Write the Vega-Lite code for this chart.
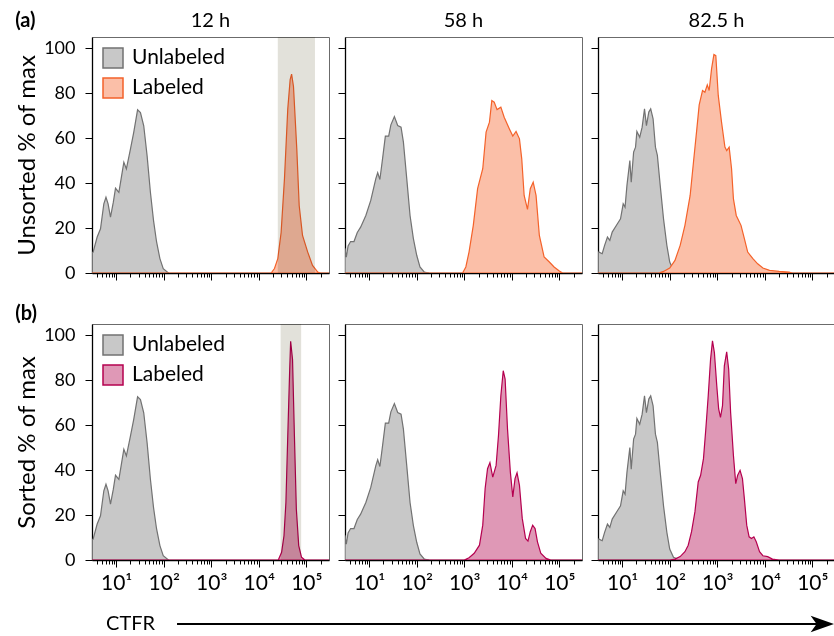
{
"$schema":"https://vega.github.io/schema/vega-lite/v6.json",
"padding":{"left":15,"top":10,"right":0,"bottom":0},
"spacing":20,
"config":{
 "font":"Lato",
 "view":{"stroke":"#6b6b6b","strokeWidth":1},
 "title":{"font":"Lato","fontSize":20,"fontWeight":"normal","color":"black","offset":6},
 "axis":{"labelFont":"Lato","labelFontSize":18,"labelColor":"black","titleFont":"Lato","titleFontSize":24,"titleFontWeight":"normal","titleColor":"black","domainColor":"black","domainWidth":1.3,"tickColor":"black","tickWidth":1,"grid":false,"labelOverlap":false,"labelFlush":false,"labelBound":false,"zindex":1},
 "axisX":{"labelFontSize":21,"labelPadding":5},
 "axisY":{"labelPadding":10,"titlePadding":4},
 "legend":{"orient":"top-left","offset":10,"padding":0,"symbolType":"square","symbolSize":400,"symbolStrokeWidth":1.5,"labelFont":"Lato","labelFontSize":21,"labelColor":"black","labelOffset":8,"rowPadding":4}
},
"datasets":{
 "u12":[{"series":"Unlabeled","x":3.15,"y":9},{"series":"Unlabeled","x":3.27,"y":9.3},{"series":"Unlabeled","x":3.98,"y":16},{"series":"Unlabeled","x":4.68,"y":19.7},{"series":"Unlabeled","x":5.5,"y":30.8},{"series":"Unlabeled","x":6.1,"y":33.7},{"series":"Unlabeled","x":6.76,"y":30.8},{"series":"Unlabeled","x":7.59,"y":24.9},{"series":"Unlabeled","x":8.71,"y":31.5},{"series":"Unlabeled","x":9.68,"y":37.7},{"series":"Unlabeled","x":11.4,"y":35.9},{"series":"Unlabeled","x":12.7,"y":41.9},{"series":"Unlabeled","x":14.5,"y":49.3},{"series":"Unlabeled","x":16.4,"y":46.3},{"series":"Unlabeled","x":20,"y":55.2},{"series":"Unlabeled","x":23.4,"y":62.6},{"series":"Unlabeled","x":28.2,"y":72.6},{"series":"Unlabeled","x":32.4,"y":71.4},{"series":"Unlabeled","x":38,"y":65.5},{"series":"Unlabeled","x":44.7,"y":52.2},{"series":"Unlabeled","x":52.5,"y":35.9},{"series":"Unlabeled","x":61,"y":23.4},{"series":"Unlabeled","x":70.8,"y":13.8},{"series":"Unlabeled","x":83.2,"y":6.4},{"series":"Unlabeled","x":97.7,"y":1.9},{"series":"Unlabeled","x":126,"y":0}],
 "u58":[{"series":"Unlabeled","x":3.1,"y":11},{"series":"Unlabeled","x":3.3,"y":7},{"series":"Unlabeled","x":3.6,"y":12},{"series":"Unlabeled","x":4.07,"y":14},{"series":"Unlabeled","x":4.79,"y":14},{"series":"Unlabeled","x":5.62,"y":18},{"series":"Unlabeled","x":6.61,"y":20.4},{"series":"Unlabeled","x":8.51,"y":25.6},{"series":"Unlabeled","x":10.8,"y":32.3},{"series":"Unlabeled","x":13.8,"y":42},{"series":"Unlabeled","x":15.1,"y":44.6},{"series":"Unlabeled","x":16.8,"y":41.6},{"series":"Unlabeled","x":19.1,"y":50.8},{"series":"Unlabeled","x":21.9,"y":60.9},{"series":"Unlabeled","x":25.7,"y":60.9},{"series":"Unlabeled","x":28.6,"y":65.9},{"series":"Unlabeled","x":33.9,"y":69.6},{"series":"Unlabeled","x":39.8,"y":65.6},{"series":"Unlabeled","x":46.8,"y":64.9},{"series":"Unlabeled","x":52.5,"y":58.2},{"series":"Unlabeled","x":61.7,"y":42},{"series":"Unlabeled","x":72.4,"y":25.6},{"series":"Unlabeled","x":85.1,"y":15.3},{"series":"Unlabeled","x":100,"y":7.9},{"series":"Unlabeled","x":117,"y":2.7},{"series":"Unlabeled","x":145,"y":0.4},{"series":"Unlabeled","x":182,"y":0}],
 "u82":[{"series":"Unlabeled","x":3.15,"y":9.3},{"series":"Unlabeled","x":3.26,"y":9.3},{"series":"Unlabeled","x":3.8,"y":8.6},{"series":"Unlabeled","x":4.27,"y":12.3},{"series":"Unlabeled","x":4.9,"y":16},{"series":"Unlabeled","x":5.5,"y":14.5},{"series":"Unlabeled","x":6.17,"y":18.2},{"series":"Unlabeled","x":7.94,"y":21.9},{"series":"Unlabeled","x":9.23,"y":24.1},{"series":"Unlabeled","x":10.5,"y":30.8},{"series":"Unlabeled","x":11.5,"y":29.3},{"series":"Unlabeled","x":12.6,"y":39},{"series":"Unlabeled","x":14.5,"y":50},{"series":"Unlabeled","x":15.5,"y":40.4},{"series":"Unlabeled","x":17.4,"y":53.8},{"series":"Unlabeled","x":19.1,"y":56},{"series":"Unlabeled","x":20.4,"y":63},{"series":"Unlabeled","x":23.4,"y":60.4},{"series":"Unlabeled","x":26.3,"y":64.9},{"series":"Unlabeled","x":29.5,"y":73},{"series":"Unlabeled","x":32.4,"y":65.6},{"series":"Unlabeled","x":36.3,"y":71.6},{"series":"Unlabeled","x":39.8,"y":73},{"series":"Unlabeled","x":44.7,"y":68.6},{"series":"Unlabeled","x":50.1,"y":56},{"series":"Unlabeled","x":55,"y":52.3},{"series":"Unlabeled","x":63.1,"y":39},{"series":"Unlabeled","x":74.1,"y":24.1},{"series":"Unlabeled","x":87.1,"y":12.3},{"series":"Unlabeled","x":100,"y":4.9},{"series":"Unlabeled","x":120,"y":1.2},{"series":"Unlabeled","x":166,"y":0}],
 "a12":[{"series":"Labeled","x":3.1,"y":0},{"series":"Labeled","x":18200,"y":0},{"series":"Labeled","x":21400,"y":2},{"series":"Labeled","x":25100,"y":6.4},{"series":"Labeled","x":29500,"y":18},{"series":"Labeled","x":34700,"y":42},{"series":"Labeled","x":40700,"y":73},{"series":"Labeled","x":45700,"y":86},{"series":"Labeled","x":49000,"y":88.5},{"series":"Labeled","x":53700,"y":83},{"series":"Labeled","x":63100,"y":55},{"series":"Labeled","x":70800,"y":30},{"series":"Labeled","x":83200,"y":16.7},{"series":"Labeled","x":107000,"y":9.3},{"series":"Labeled","x":135000,"y":3.4},{"series":"Labeled","x":174000,"y":0.4},{"series":"Labeled","x":200000,"y":0},{"series":"Labeled","x":300000,"y":0}],
 "a58":[{"series":"Labeled","x":3.1,"y":0},{"series":"Labeled","x":923,"y":0},{"series":"Labeled","x":1080,"y":2.7},{"series":"Labeled","x":1260,"y":9.3},{"series":"Labeled","x":1550,"y":21.2},{"series":"Labeled","x":1910,"y":37.5},{"series":"Labeled","x":2450,"y":46.4},{"series":"Labeled","x":2880,"y":62.7},{"series":"Labeled","x":3390,"y":67.1},{"series":"Labeled","x":3800,"y":76.7},{"series":"Labeled","x":4270,"y":76},{"series":"Labeled","x":4900,"y":72.7},{"series":"Labeled","x":5890,"y":73.8},{"series":"Labeled","x":6920,"y":69.3},{"series":"Labeled","x":8910,"y":64.1},{"series":"Labeled","x":10500,"y":60.9},{"series":"Labeled","x":12300,"y":63},{"series":"Labeled","x":14500,"y":59.7},{"series":"Labeled","x":16200,"y":50.8},{"series":"Labeled","x":18200,"y":34.5},{"series":"Labeled","x":21400,"y":28.3},{"series":"Labeled","x":24500,"y":37.5},{"series":"Labeled","x":28200,"y":40.4},{"series":"Labeled","x":32400,"y":34.5},{"series":"Labeled","x":38000,"y":16.7},{"series":"Labeled","x":47900,"y":7.1},{"series":"Labeled","x":61700,"y":4.9},{"series":"Labeled","x":77600,"y":2.7},{"series":"Labeled","x":100000,"y":0.9},{"series":"Labeled","x":117000,"y":0},{"series":"Labeled","x":300000,"y":0}],
 "a82":[{"series":"Labeled","x":3.1,"y":0},{"series":"Labeled","x":58.9,"y":0},{"series":"Labeled","x":74.1,"y":0.7},{"series":"Labeled","x":100,"y":2.2},{"series":"Labeled","x":129,"y":5.6},{"series":"Labeled","x":166,"y":12.3},{"series":"Labeled","x":209,"y":21.2},{"series":"Labeled","x":269,"y":34.5},{"series":"Labeled","x":316,"y":49.3},{"series":"Labeled","x":372,"y":64.1},{"series":"Labeled","x":417,"y":74.8},{"series":"Labeled","x":490,"y":81.2},{"series":"Labeled","x":550,"y":80.4},{"series":"Labeled","x":617,"y":83.7},{"series":"Labeled","x":676,"y":81.2},{"series":"Labeled","x":759,"y":90.8},{"series":"Labeled","x":851,"y":97.2},{"series":"Labeled","x":933,"y":96.7},{"series":"Labeled","x":1050,"y":79},{"series":"Labeled","x":1230,"y":67.1},{"series":"Labeled","x":1450,"y":56},{"series":"Labeled","x":1580,"y":54.5},{"series":"Labeled","x":1780,"y":56},{"series":"Labeled","x":2000,"y":46.4},{"series":"Labeled","x":2190,"y":33},{"series":"Labeled","x":2510,"y":25.6},{"series":"Labeled","x":3160,"y":21.2},{"series":"Labeled","x":3720,"y":15.3},{"series":"Labeled","x":4370,"y":9.3},{"series":"Labeled","x":5620,"y":6.4},{"series":"Labeled","x":7080,"y":4.1},{"series":"Labeled","x":9120,"y":2.2},{"series":"Labeled","x":12600,"y":1.2},{"series":"Labeled","x":20000,"y":0.7},{"series":"Labeled","x":32400,"y":0.4},{"series":"Labeled","x":38000,"y":0},{"series":"Labeled","x":300000,"y":0}],
 "b12":[{"series":"Labeled","x":3.1,"y":0},{"series":"Labeled","x":25700,"y":0},{"series":"Labeled","x":30200,"y":3.4},{"series":"Labeled","x":33900,"y":10.8},{"series":"Labeled","x":37200,"y":25.6},{"series":"Labeled","x":40700,"y":55.2},{"series":"Labeled","x":44700,"y":84.8},{"series":"Labeled","x":46800,"y":97.3},{"series":"Labeled","x":51300,"y":89.2},{"series":"Labeled","x":56200,"y":55.2},{"series":"Labeled","x":61700,"y":22.6},{"series":"Labeled","x":69200,"y":6.4},{"series":"Labeled","x":79400,"y":1.2},{"series":"Labeled","x":93300,"y":0},{"series":"Labeled","x":300000,"y":0}],
 "b58":[{"series":"Labeled","x":3.1,"y":0},{"series":"Labeled","x":1000,"y":0},{"series":"Labeled","x":1260,"y":1},{"series":"Labeled","x":1620,"y":3},{"series":"Labeled","x":2090,"y":6.6},{"series":"Labeled","x":2450,"y":15.5},{"series":"Labeled","x":2750,"y":31.8},{"series":"Labeled","x":3090,"y":40.6},{"series":"Labeled","x":3470,"y":43.3},{"series":"Labeled","x":3980,"y":36.9},{"series":"Labeled","x":4680,"y":42.1},{"series":"Labeled","x":5250,"y":55.4},{"series":"Labeled","x":5890,"y":73.1},{"series":"Labeled","x":6610,"y":84.2},{"series":"Labeled","x":7240,"y":80.5},{"series":"Labeled","x":8130,"y":58.3},{"series":"Labeled","x":9330,"y":39.1},{"series":"Labeled","x":10500,"y":28.1},{"series":"Labeled","x":11700,"y":36.2},{"series":"Labeled","x":12900,"y":38.8},{"series":"Labeled","x":14500,"y":33.2},{"series":"Labeled","x":16600,"y":18.5},{"series":"Labeled","x":19500,"y":9.6},{"series":"Labeled","x":21900,"y":8.4},{"series":"Labeled","x":24500,"y":12.6},{"series":"Labeled","x":27500,"y":15.5},{"series":"Labeled","x":30900,"y":14},{"series":"Labeled","x":34700,"y":8.1},{"series":"Labeled","x":40700,"y":3},{"series":"Labeled","x":52500,"y":0.7},{"series":"Labeled","x":66100,"y":0},{"series":"Labeled","x":300000,"y":0}],
 "b82":[{"series":"Labeled","x":3.1,"y":0},{"series":"Labeled","x":100,"y":0},{"series":"Labeled","x":129,"y":0.4},{"series":"Labeled","x":166,"y":1.5},{"series":"Labeled","x":209,"y":3.7},{"series":"Labeled","x":245,"y":6.6},{"series":"Labeled","x":288,"y":12.6},{"series":"Labeled","x":339,"y":21.4},{"series":"Labeled","x":398,"y":34.7},{"series":"Labeled","x":447,"y":37.7},{"series":"Labeled","x":513,"y":45.1},{"series":"Labeled","x":575,"y":58.3},{"series":"Labeled","x":646,"y":73.1},{"series":"Labeled","x":724,"y":89.4},{"series":"Labeled","x":794,"y":97.5},{"series":"Labeled","x":871,"y":92.3},{"series":"Labeled","x":977,"y":77.5},{"series":"Labeled","x":1070,"y":67.2},{"series":"Labeled","x":1170,"y":63.5},{"series":"Labeled","x":1290,"y":68.7},{"series":"Labeled","x":1410,"y":86.4},{"series":"Labeled","x":1580,"y":92.6},{"series":"Labeled","x":1740,"y":84.9},{"series":"Labeled","x":1910,"y":65.7},{"series":"Labeled","x":2190,"y":46.5},{"series":"Labeled","x":2450,"y":34},{"series":"Labeled","x":2690,"y":37.7},{"series":"Labeled","x":3020,"y":39.9},{"series":"Labeled","x":3390,"y":36.2},{"series":"Labeled","x":3720,"y":27.3},{"series":"Labeled","x":4170,"y":15.5},{"series":"Labeled","x":4680,"y":10.3},{"series":"Labeled","x":5250,"y":9.6},{"series":"Labeled","x":5890,"y":10.3},{"series":"Labeled","x":6610,"y":8.1},{"series":"Labeled","x":7760,"y":3.7},{"series":"Labeled","x":9120,"y":1.9},{"series":"Labeled","x":11500,"y":1.5},{"series":"Labeled","x":14500,"y":0.4},{"series":"Labeled","x":20000,"y":0},{"series":"Labeled","x":300000,"y":0}]
},
"resolve":{"scale":{"fill":"independent","stroke":"independent"},"legend":{"fill":"independent","stroke":"independent"}},
"vconcat":[
 {"title":{"text":"(a)","anchor":"start","frame":"bounds","fontWeight":"bold","offset":-20},
  "spacing":7,
  "resolve":{"scale":{"fill":"independent","stroke":"independent"},"legend":{"fill":"independent","stroke":"independent"}},
  "hconcat":[
   {"width":237,"height":236,"title":"12 h",
    "layer":[
     {"data":{"name":"u12"},"mark":{"type":"area","clip":true,"strokeWidth":1.2},
      "encoding":{"x":{"field":"x","type":"quantitative","scale":{"type":"log","domain":[3.1,300000],"nice":false},"axis":{"title":null,"labels":false,"values":[4,5,6,7,8,9,10,20,30,40,50,60,70,80,90,100,200,300,400,500,600,700,800,900,1000,2000,3000,4000,5000,6000,7000,8000,9000,10000,20000,30000,40000,50000,60000,70000,80000,90000,100000,200000],"tickSize":{"condition":{"test":"datum.value == 10 || datum.value == 100 || datum.value == 1000 || datum.value == 10000 || datum.value == 100000","value":7},"value":4}}},
       "y":{"field":"y","type":"quantitative","stack":null,"scale":{"domain":[0,105],"nice":false},"axis":{"title":"Unsorted % of max","values":[0,5,10,15,20,25,30,35,40,45,50,55,60,65,70,75,80,85,90,95,100],"labelExpr":"datum.value % 20 == 0 ? datum.label : ''","tickSize":{"condition":{"test":"datum.value % 20 == 0","value":7},"value":4}}},
       "fill":{"field":"series","type":"nominal","scale":{"domain":["Unlabeled","Labeled"],"range":["#c8c8c8","#fbbfa8"]},"legend":{"title":null}},
       "stroke":{"field":"series","type":"nominal","scale":{"domain":["Unlabeled","Labeled"],"range":["#727272","#f4622a"]},"legend":{"title":null}}}},
     {"data":{"name":"a12"},"mark":{"type":"area","clip":true,"strokeWidth":1.2},
      "encoding":{"x":{"field":"x","type":"quantitative"},"y":{"field":"y","type":"quantitative","stack":null},
       "fill":{"field":"series","type":"nominal"},"stroke":{"field":"series","type":"nominal"}}},
     {"data":{"values":[{"x0":25100,"x1":152000}]},"mark":{"type":"rect","color":"#e2e1da","blend":"multiply"},
      "encoding":{"x":{"field":"x0","type":"quantitative"},"x2":{"field":"x1"}}}
    ]},
   {"width":237,"height":236,"title":"58 h",
    "layer":[
     {"data":{"name":"u58"},"mark":{"type":"area","clip":true,"strokeWidth":1.2},
      "encoding":{"x":{"field":"x","type":"quantitative","scale":{"type":"log","domain":[3.1,300000],"nice":false},"axis":{"title":null,"labels":false,"values":[4,5,6,7,8,9,10,20,30,40,50,60,70,80,90,100,200,300,400,500,600,700,800,900,1000,2000,3000,4000,5000,6000,7000,8000,9000,10000,20000,30000,40000,50000,60000,70000,80000,90000,100000,200000],"tickSize":{"condition":{"test":"datum.value == 10 || datum.value == 100 || datum.value == 1000 || datum.value == 10000 || datum.value == 100000","value":7},"value":4}}},
       "y":{"field":"y","type":"quantitative","stack":null,"scale":{"domain":[0,105],"nice":false},"axis":{"title":null,"labels":false,"values":[0,5,10,15,20,25,30,35,40,45,50,55,60,65,70,75,80,85,90,95,100],"tickSize":{"condition":{"test":"datum.value % 20 == 0","value":7},"value":4}}},
       "fill":{"field":"series","type":"nominal","scale":{"domain":["Unlabeled","Labeled"],"range":["#c8c8c8","#fbbfa8"]},"legend":null},
       "stroke":{"field":"series","type":"nominal","scale":{"domain":["Unlabeled","Labeled"],"range":["#727272","#f4622a"]},"legend":null}}},
     {"data":{"name":"a58"},"mark":{"type":"area","clip":true,"strokeWidth":1.2},
      "encoding":{"x":{"field":"x","type":"quantitative"},"y":{"field":"y","type":"quantitative","stack":null},
       "fill":{"field":"series","type":"nominal","legend":null},"stroke":{"field":"series","type":"nominal","legend":null}}}
    ]},
   {"width":237,"height":236,"title":"82.5 h",
    "layer":[
     {"data":{"name":"u82"},"mark":{"type":"area","clip":true,"strokeWidth":1.2},
      "encoding":{"x":{"field":"x","type":"quantitative","scale":{"type":"log","domain":[3.1,300000],"nice":false},"axis":{"title":null,"labels":false,"values":[4,5,6,7,8,9,10,20,30,40,50,60,70,80,90,100,200,300,400,500,600,700,800,900,1000,2000,3000,4000,5000,6000,7000,8000,9000,10000,20000,30000,40000,50000,60000,70000,80000,90000,100000,200000],"tickSize":{"condition":{"test":"datum.value == 10 || datum.value == 100 || datum.value == 1000 || datum.value == 10000 || datum.value == 100000","value":7},"value":4}}},
       "y":{"field":"y","type":"quantitative","stack":null,"scale":{"domain":[0,105],"nice":false},"axis":{"title":null,"labels":false,"values":[0,5,10,15,20,25,30,35,40,45,50,55,60,65,70,75,80,85,90,95,100],"tickSize":{"condition":{"test":"datum.value % 20 == 0","value":7},"value":4}}},
       "fill":{"field":"series","type":"nominal","scale":{"domain":["Unlabeled","Labeled"],"range":["#c8c8c8","#fbbfa8"]},"legend":null},
       "stroke":{"field":"series","type":"nominal","scale":{"domain":["Unlabeled","Labeled"],"range":["#727272","#f4622a"]},"legend":null}}},
     {"data":{"name":"a82"},"mark":{"type":"area","clip":true,"strokeWidth":1.2},
      "encoding":{"x":{"field":"x","type":"quantitative"},"y":{"field":"y","type":"quantitative","stack":null},
       "fill":{"field":"series","type":"nominal","legend":null},"stroke":{"field":"series","type":"nominal","legend":null}}}
    ]}
  ]},
 {"title":{"text":"(b)","anchor":"start","frame":"bounds","fontWeight":"bold","offset":0},
  "spacing":7,
  "resolve":{"scale":{"fill":"independent","stroke":"independent"},"legend":{"fill":"independent","stroke":"independent"}},
  "hconcat":[
   {"width":237,"height":236,
    "layer":[
     {"data":{"name":"u12"},"mark":{"type":"area","clip":true,"strokeWidth":1.2},
      "encoding":{"x":{"field":"x","type":"quantitative","scale":{"type":"log","domain":[3.1,300000],"nice":false},"axis":{"title":null,"values":[4,5,6,7,8,9,10,20,30,40,50,60,70,80,90,100,200,300,400,500,600,700,800,900,1000,2000,3000,4000,5000,6000,7000,8000,9000,10000,20000,30000,40000,50000,60000,70000,80000,90000,100000,200000],"labelExpr":"datum.value == 10 ? '10¹' : datum.value == 100 ? '10²' : datum.value == 1000 ? '10³' : datum.value == 10000 ? '10⁴' : datum.value == 100000 ? '10⁵' : ''","tickSize":{"condition":{"test":"datum.value == 10 || datum.value == 100 || datum.value == 1000 || datum.value == 10000 || datum.value == 100000","value":7},"value":4}}},
       "y":{"field":"y","type":"quantitative","stack":null,"scale":{"domain":[0,105],"nice":false},"axis":{"title":"Sorted % of max","values":[0,5,10,15,20,25,30,35,40,45,50,55,60,65,70,75,80,85,90,95,100],"labelExpr":"datum.value % 20 == 0 ? datum.label : ''","tickSize":{"condition":{"test":"datum.value % 20 == 0","value":7},"value":4}}},
       "fill":{"field":"series","type":"nominal","scale":{"domain":["Unlabeled","Labeled"],"range":["#c8c8c8","#df98b6"]},"legend":{"title":null}},
       "stroke":{"field":"series","type":"nominal","scale":{"domain":["Unlabeled","Labeled"],"range":["#727272","#b5004f"]},"legend":{"title":null}}}},
     {"data":{"name":"b12"},"mark":{"type":"area","clip":true,"strokeWidth":1.2},
      "encoding":{"x":{"field":"x","type":"quantitative"},"y":{"field":"y","type":"quantitative","stack":null},
       "fill":{"field":"series","type":"nominal"},"stroke":{"field":"series","type":"nominal"}}},
     {"data":{"values":[{"x0":28800,"x1":77900}]},"mark":{"type":"rect","color":"#e2e1da","blend":"multiply"},
      "encoding":{"x":{"field":"x0","type":"quantitative"},"x2":{"field":"x1"}}}
    ]},
   {"width":237,"height":236,
    "layer":[
     {"data":{"name":"u58"},"mark":{"type":"area","clip":true,"strokeWidth":1.2},
      "encoding":{"x":{"field":"x","type":"quantitative","scale":{"type":"log","domain":[3.1,300000],"nice":false},"axis":{"title":null,"values":[4,5,6,7,8,9,10,20,30,40,50,60,70,80,90,100,200,300,400,500,600,700,800,900,1000,2000,3000,4000,5000,6000,7000,8000,9000,10000,20000,30000,40000,50000,60000,70000,80000,90000,100000,200000],"labelExpr":"datum.value == 10 ? '10¹' : datum.value == 100 ? '10²' : datum.value == 1000 ? '10³' : datum.value == 10000 ? '10⁴' : datum.value == 100000 ? '10⁵' : ''","tickSize":{"condition":{"test":"datum.value == 10 || datum.value == 100 || datum.value == 1000 || datum.value == 10000 || datum.value == 100000","value":7},"value":4}}},
       "y":{"field":"y","type":"quantitative","stack":null,"scale":{"domain":[0,105],"nice":false},"axis":{"title":null,"labels":false,"values":[0,5,10,15,20,25,30,35,40,45,50,55,60,65,70,75,80,85,90,95,100],"tickSize":{"condition":{"test":"datum.value % 20 == 0","value":7},"value":4}}},
       "fill":{"field":"series","type":"nominal","scale":{"domain":["Unlabeled","Labeled"],"range":["#c8c8c8","#df98b6"]},"legend":null},
       "stroke":{"field":"series","type":"nominal","scale":{"domain":["Unlabeled","Labeled"],"range":["#727272","#b5004f"]},"legend":null}}},
     {"data":{"name":"b58"},"mark":{"type":"area","clip":true,"strokeWidth":1.2},
      "encoding":{"x":{"field":"x","type":"quantitative"},"y":{"field":"y","type":"quantitative","stack":null},
       "fill":{"field":"series","type":"nominal","legend":null},"stroke":{"field":"series","type":"nominal","legend":null}}}
    ]},
   {"width":237,"height":236,
    "layer":[
     {"data":{"name":"u82"},"mark":{"type":"area","clip":true,"strokeWidth":1.2},
      "encoding":{"x":{"field":"x","type":"quantitative","scale":{"type":"log","domain":[3.1,300000],"nice":false},"axis":{"title":null,"values":[4,5,6,7,8,9,10,20,30,40,50,60,70,80,90,100,200,300,400,500,600,700,800,900,1000,2000,3000,4000,5000,6000,7000,8000,9000,10000,20000,30000,40000,50000,60000,70000,80000,90000,100000,200000],"labelExpr":"datum.value == 10 ? '10¹' : datum.value == 100 ? '10²' : datum.value == 1000 ? '10³' : datum.value == 10000 ? '10⁴' : datum.value == 100000 ? '10⁵' : ''","tickSize":{"condition":{"test":"datum.value == 10 || datum.value == 100 || datum.value == 1000 || datum.value == 10000 || datum.value == 100000","value":7},"value":4}}},
       "y":{"field":"y","type":"quantitative","stack":null,"scale":{"domain":[0,105],"nice":false},"axis":{"title":null,"labels":false,"values":[0,5,10,15,20,25,30,35,40,45,50,55,60,65,70,75,80,85,90,95,100],"tickSize":{"condition":{"test":"datum.value % 20 == 0","value":7},"value":4}}},
       "fill":{"field":"series","type":"nominal","scale":{"domain":["Unlabeled","Labeled"],"range":["#c8c8c8","#df98b6"]},"legend":null},
       "stroke":{"field":"series","type":"nominal","scale":{"domain":["Unlabeled","Labeled"],"range":["#727272","#b5004f"]},"legend":null}}},
     {"data":{"name":"b82"},"mark":{"type":"area","clip":true,"strokeWidth":1.2},
      "encoding":{"x":{"field":"x","type":"quantitative"},"y":{"field":"y","type":"quantitative","stack":null},
       "fill":{"field":"series","type":"nominal","legend":null},"stroke":{"field":"series","type":"nominal","legend":null}}}
    ]}
  ]},
 {"width":742,"height":20,"view":{"stroke":null},
  "data":{"values":[{"label":"CTFR","tx":0.019,"ax":0.1146,"ax2":0.98,"hx":0.9845}]},
  "layer":[
   {"mark":{"type":"rule","strokeWidth":2,"color":"black"},
    "encoding":{"x":{"field":"ax","type":"quantitative","scale":{"domain":[0,1],"nice":false},"axis":null},"x2":{"field":"ax2"},"y":{"datum":0,"type":"quantitative","scale":{"domain":[-1,1]},"axis":null}}},
   {"mark":{"type":"point","shape":"M -1 -0.7 L 1 0 L -1 0.7 L -0.5 0 Z","size":560,"filled":true,"color":"black","opacity":1},
    "encoding":{"x":{"field":"hx","type":"quantitative"},"y":{"datum":0,"type":"quantitative"}}},
   {"mark":{"type":"text","align":"left","baseline":"middle","fontSize":20,"font":"Lato","color":"black"},
    "encoding":{"x":{"field":"tx","type":"quantitative"},"y":{"datum":0,"type":"quantitative"},"text":{"field":"label"}}}
  ]}
]
}
